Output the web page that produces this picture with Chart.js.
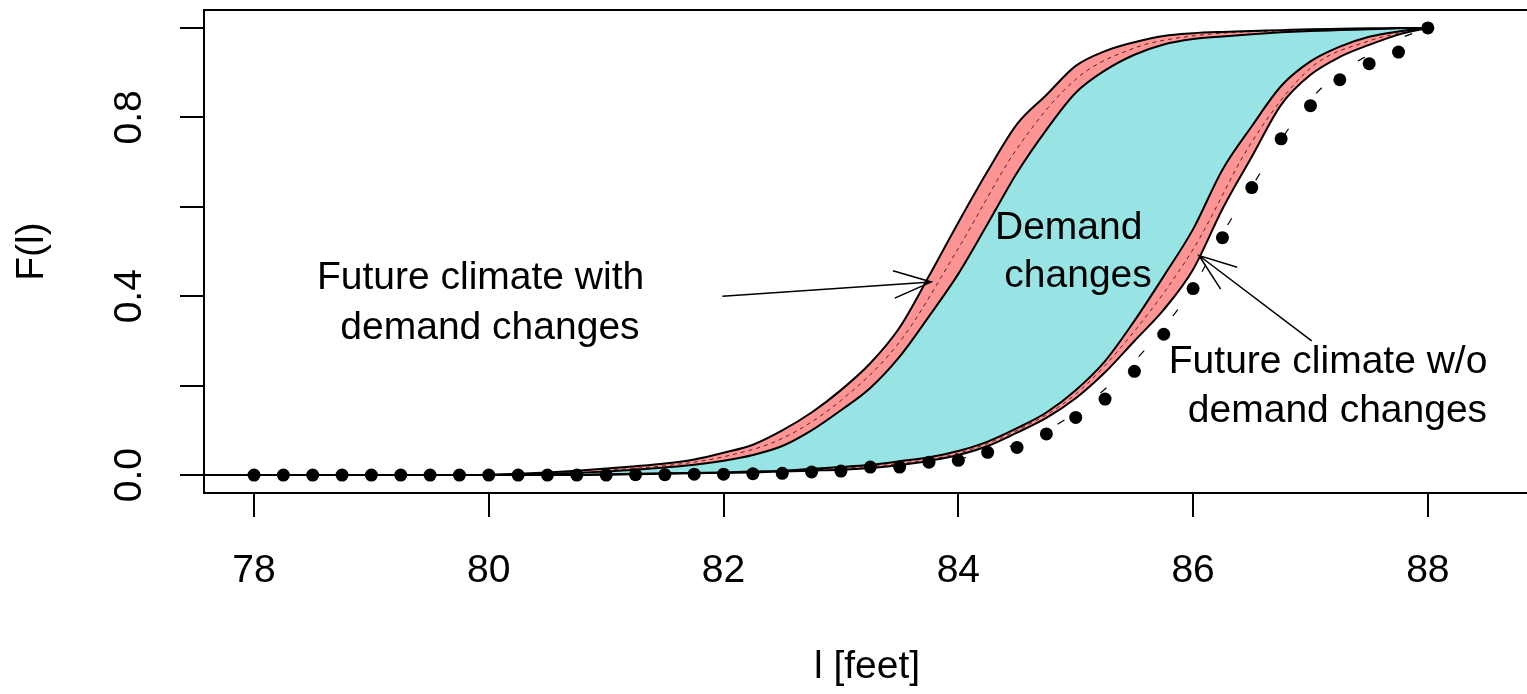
<!DOCTYPE html>
<html>
<head>
<meta charset="utf-8">
<script src="https://cdn.jsdelivr.net/npm/chart.js@4.4.0/dist/chart.umd.min.js"></script>
<style>
  html, body { margin: 0; padding: 0; background: #fff; overflow: hidden; }
  #wrap { width: 1540px; height: 694px; }
</style>
</head>
<body>
<div id="wrap"><canvas id="cdfChart" width="1540" height="694"></canvas></div>
<script>
// observed points (dots)
const dotX = [78, 78.25, 78.5, 78.75, 79, 79.25, 79.5, 79.75, 80, 80.25, 80.5, 80.75, 81,
  81.25, 81.5, 81.75, 82, 82.25, 82.5, 82.75, 83, 83.25, 83.5, 83.75, 84, 84.25, 84.5, 84.75,
  85, 85.25, 85.5, 85.75, 86, 86.25, 86.5, 86.75, 87, 87.25, 87.5, 87.75, 88];
const dotY = [0, 0, 0, 0, 0, 0, 0, 0, 0, 0, 0, 0, 0,
  0.001, 0.001, 0.002, 0.002, 0.003, 0.004, 0.007, 0.009, 0.018, 0.018, 0.029, 0.033, 0.051, 0.062, 0.092,
  0.129, 0.170, 0.232, 0.315, 0.417, 0.531, 0.643, 0.752, 0.826, 0.884, 0.920, 0.946, 1.0];

// band edges
const curveX = [77.5, 78, 78.5, 79, 79.5, 80, 80.25, 80.5, 80.75, 81, 81.25, 81.5, 81.75, 82,
  82.25, 82.5, 82.75, 83, 83.25, 83.5, 83.75, 84, 84.25, 84.5, 84.75, 85, 85.25, 85.5, 85.75,
  86, 86.25, 86.5, 86.75, 87, 87.25, 87.5, 87.75, 88];
// future climate with demand changes (left band)
const withOuter = [0, 0, 0, 0, 0, 0.001, 0.003, 0.006, 0.01, 0.015, 0.02, 0.026, 0.035, 0.05,
  0.068, 0.1, 0.14, 0.19, 0.25, 0.33, 0.445, 0.565, 0.68, 0.785, 0.85, 0.915, 0.948, 0.968, 0.982,
  0.988, 0.991, 0.993, 0.995, 0.997, 0.998, 0.999, 1.0, 1.0];
const withInner = [0, 0, 0, 0, 0, 0, 0.001, 0.003, 0.005, 0.008, 0.012, 0.017, 0.023, 0.032,
  0.045, 0.065, 0.1, 0.145, 0.195, 0.265, 0.355, 0.45, 0.562, 0.676, 0.772, 0.855, 0.905, 0.94, 0.963,
  0.975, 0.981, 0.986, 0.99, 0.993, 0.995, 0.997, 0.999, 1.0];
// future climate w/o demand changes (right band)
const woUpper = [0, 0, 0, 0, 0, 0, 0, 0.001, 0.001, 0.002, 0.003, 0.004, 0.005, 0.006,
  0.008, 0.01, 0.014, 0.018, 0.023, 0.031, 0.04, 0.054, 0.075, 0.105, 0.14, 0.19, 0.255, 0.345, 0.445,
  0.55, 0.683, 0.78, 0.87, 0.925, 0.958, 0.98, 0.992, 1.0];
const woLower = [0, 0, 0, 0, 0, 0, 0, 0, 0, 0.001, 0.002, 0.003, 0.004, 0.005,
  0.006, 0.008, 0.01, 0.012, 0.016, 0.022, 0.032, 0.045, 0.065, 0.095, 0.128, 0.172, 0.23, 0.3, 0.37,
  0.46, 0.595, 0.712, 0.828, 0.895, 0.935, 0.962, 0.985, 1.0];

// dashed lines inside the bands
const midWithX = [81, 81.5, 82, 82.5, 83, 83.5, 84, 84.5, 85, 85.5, 86, 87, 88];
const midWithY = [0.011, 0.021, 0.041, 0.082, 0.167, 0.298, 0.507, 0.73, 0.885, 0.955, 0.982, 0.995, 1.0];
const midWoX = [82, 82.5, 83, 83.5, 84, 84.5, 85, 85.5, 86, 86.5, 87, 87.5, 88];
const midWoY = [0.005, 0.009, 0.015, 0.026, 0.049, 0.1, 0.181, 0.322, 0.505, 0.745, 0.91, 0.971, 1.0];
// sparse dashed line next to the dots
const dashX = [84, 84.5, 85, 85.5, 85.75, 86, 86.25, 86.5, 86.75, 87, 87.25, 87.5, 87.75, 88];
const dashY = [0.035, 0.07, 0.14, 0.255, 0.33, 0.42, 0.54, 0.645, 0.75, 0.84, 0.9, 0.94, 0.975, 1.0];

const xTicks = [78, 80, 82, 84, 86, 88];
const yTicks = [0, 0.2, 0.4, 0.6, 0.8, 1.0];
const yTickLabels = ['0.0', '', '0.4', '', '0.8', ''];

const noteText = ['Future climate with', 'demand changes', 'Demand', 'changes', 'Future climate w/o', 'demand changes'];
const noteX = [79.93, 80.01, 84.94, 85.02, 87.15, 87.23];
const noteY = [0.440, 0.328, 0.551, 0.444, 0.252, 0.143];

const arrowFromX = [81.99, 87.01];
const arrowFromY = [0.400, 0.300];
const arrowToX = [83.77, 86.05];
const arrowToY = [0.432, 0.491];

const FONT = 'Liberation Sans, Arial, Helvetica, sans-serif';
const CYAN = '#98E4E4';
const RED = '#FF9494';
const NONE = 'rgba(0,0,0,0)';

function pts(xs, ys) {
    return xs.map((x, i) => ({ x: x, y: ys[i] }));
}

// box around the plot region, like R's box()
const boxPlugin = {
    id: 'box',
    afterDatasetsDraw(chart) {
        const a = chart.chartArea;
        const ctx = chart.ctx;
        ctx.save();
        ctx.strokeStyle = '#000';
        ctx.lineWidth = 2;
        ctx.strokeRect(a.left, a.top, a.right - a.left, a.bottom - a.top);
        ctx.restore();
    }
};

// text labels and arrows, placed in data units
const notesPlugin = {
    id: 'notes',
    afterDatasetsDraw(chart) {
        const ctx = chart.ctx;
        const xs = chart.scales.x, ys = chart.scales.y;
        ctx.save();
        ctx.fillStyle = '#000';
        ctx.font = '39px ' + FONT;
        ctx.textAlign = 'center';
        ctx.textBaseline = 'middle';
        noteText.forEach((t, i) => {
            ctx.fillText(t, xs.getPixelForValue(noteX[i]), ys.getPixelForValue(noteY[i]));
        });

        ctx.strokeStyle = '#000';
        ctx.lineWidth = 1.5;
        arrowFromX.forEach((fx, i) => {
            const x0 = xs.getPixelForValue(fx), y0 = ys.getPixelForValue(arrowFromY[i]);
            const x1 = xs.getPixelForValue(arrowToX[i]), y1 = ys.getPixelForValue(arrowToY[i]);
            const ang = Math.atan2(y1 - y0, x1 - x0);
            const len = 40, spread = 20 * Math.PI / 180;
            ctx.beginPath();
            ctx.moveTo(x0, y0);
            ctx.lineTo(x1, y1);
            ctx.moveTo(x1 - len * Math.cos(ang - spread), y1 - len * Math.sin(ang - spread));
            ctx.lineTo(x1, y1);
            ctx.lineTo(x1 - len * Math.cos(ang + spread), y1 - len * Math.sin(ang + spread));
            ctx.stroke();
        });
        ctx.restore();
    }
};

const tickFont = { family: FONT, size: 39, lineHeight: 1.2 };

const chart = new Chart(document.getElementById('cdfChart'), {
    type: 'line',
    data: {
        datasets: [
            {   // 0
                label: 'observed',
                data: pts(dotX, dotY),
                showLine: false,
                pointRadius: 6.5,
                pointBackgroundColor: '#000',
                pointBorderColor: '#000',
                pointBorderWidth: 0,
                order: 0
            },
            {   // 1
                label: 'with demand, outer',
                data: pts(curveX, withOuter),
                borderColor: '#000',
                borderWidth: 2,
                pointRadius: 0,
                fill: { target: 2, above: RED, below: NONE },
                order: 1
            },
            {   // 2
                label: 'with demand, inner',
                data: pts(curveX, withInner),
                borderColor: '#000',
                borderWidth: 2,
                pointRadius: 0,
                fill: { target: 3, above: CYAN, below: NONE },
                order: 1
            },
            {   // 3
                label: 'w/o demand, upper',
                data: pts(curveX, woUpper),
                borderColor: '#000',
                borderWidth: 2,
                pointRadius: 0,
                fill: { target: 4, above: RED, below: NONE },
                order: 1
            },
            {   // 4
                label: 'w/o demand, lower',
                data: pts(curveX, woLower),
                borderColor: '#000',
                borderWidth: 2,
                pointRadius: 0,
                fill: false,
                order: 1
            },
            {
                label: 'with demand, mid',
                data: pts(midWithX, midWithY),
                borderColor: '#5a2020',
                borderWidth: 1,
                borderDash: [4, 4],
                pointRadius: 0,
                fill: false,
                order: 2
            },
            {
                label: 'w/o demand, mid',
                data: pts(midWoX, midWoY),
                borderColor: '#5a2020',
                borderWidth: 1,
                borderDash: [4, 4],
                pointRadius: 0,
                fill: false,
                order: 2
            },
            {
                label: 'dashed',
                data: pts(dashX, dashY),
                borderColor: '#000',
                borderWidth: 1.2,
                borderDash: [8, 45],
                pointRadius: 0,
                fill: false,
                order: 2
            }
        ]
    },
    options: {
        responsive: false,
        devicePixelRatio: 1,
        animation: false,
        layout: { padding: { top: 10, right: 10, left: 0, bottom: 0 } },
        elements: { line: { tension: 0, cubicInterpolationMode: 'monotone' } },
        plugins: {
            legend: { display: false },
            tooltip: { enabled: false },
            filler: { drawTime: 'beforeDatasetsDraw' }
        },
        scales: {
            x: {
                type: 'linear',
                min: 77.574,
                max: 88.87,
                afterBuildTicks: s => { s.ticks = xTicks.map(v => ({ value: v })); },
                afterFit: s => { s.height = 201; s.paddingLeft = 0; s.paddingRight = 0; },
                grid: { display: true, drawOnChartArea: false, drawTicks: true, tickLength: 24, color: '#000', lineWidth: 2 },
                border: { display: false },
                ticks: { font: tickFont, color: '#000', padding: 31, maxRotation: 0, autoSkip: false, callback: v => String(v) },
                title: { display: true, text: 'l [feet]', font: tickFont, color: '#000', padding: { top: 0, bottom: 3 } }
            },
            y: {
                type: 'linear',
                min: -0.04,
                max: 1.04,
                afterBuildTicks: s => { s.ticks = yTicks.map(v => ({ value: v })); },
                afterFit: s => { s.width = 204; s.paddingTop = 0; s.paddingBottom = 0; },
                grid: { display: true, drawOnChartArea: false, drawTicks: true, tickLength: 24, color: '#000', lineWidth: 2 },
                border: { display: false },
                ticks: {
                    font: tickFont, color: '#000', padding: 23,
                    minRotation: 90, maxRotation: 90, crossAlign: 'center', autoSkip: false,
                    callback: (v, i) => yTickLabels[i]
                },
                title: { display: true, text: 'F(l)', font: tickFont, color: '#000', padding: { top: 9, bottom: 0 } }
            }
        }
    },
    plugins: [boxPlugin, notesPlugin]
});
</script>
</body>
</html>
